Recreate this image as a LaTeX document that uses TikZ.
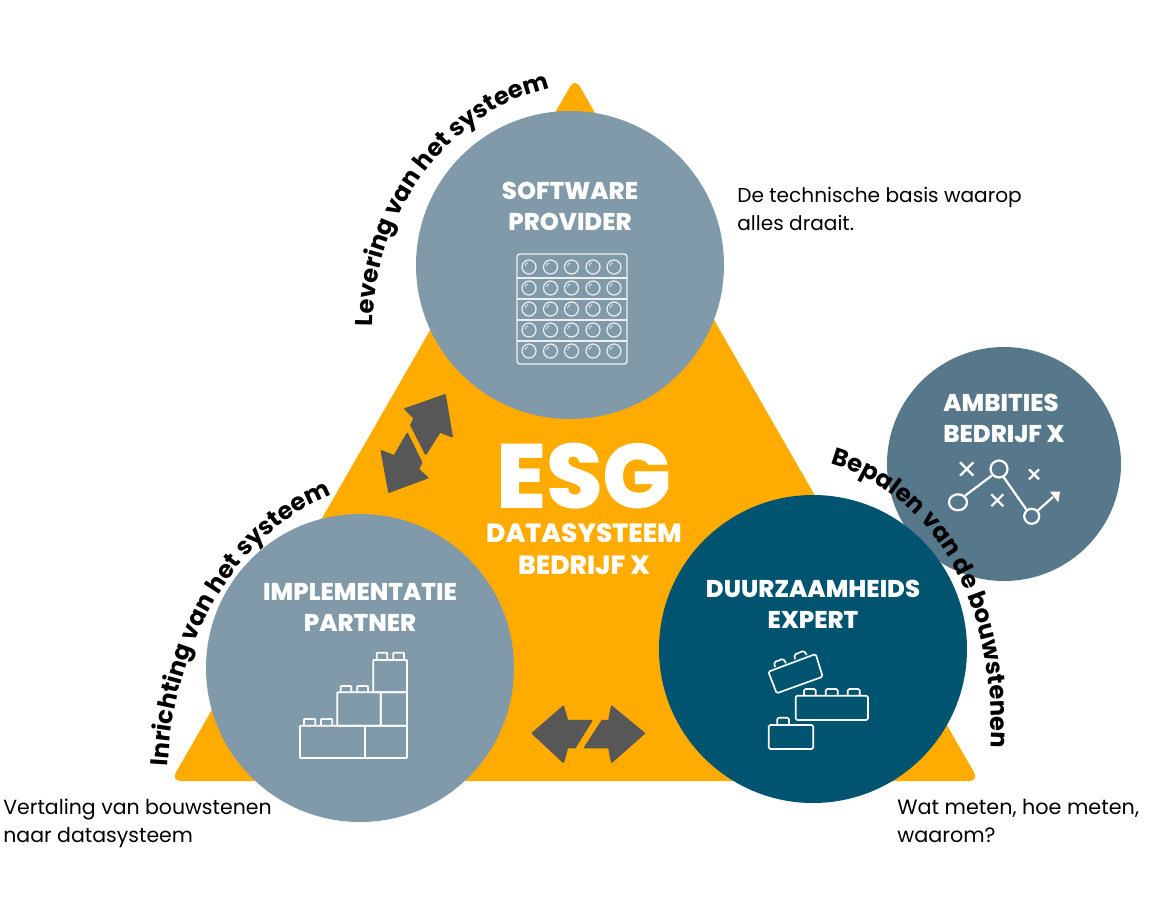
\documentclass[tikz,border=0pt]{standalone}
\usepackage{fontspec}
\setmainfont{Poppins}
\newfontfamily\xbfam{Poppins ExtraBold}
\usetikzlibrary{decorations.text}
\definecolor{orangeT}{HTML}{FFAB00}
\definecolor{greyC}{HTML}{819AA9}
\definecolor{darkC}{HTML}{00546F}
\definecolor{midC}{HTML}{57778A}
\definecolor{arrowC}{HTML}{575757}
\newcommand{\headfont}{\fontsize{13.8pt}{14pt}\selectfont\xbfam}
\newcommand{\centrefont}{\fontsize{15pt}{16pt}\selectfont\xbfam}
\newcommand{\arcfont}{\fontsize{13.8pt}{16pt}\selectfont\bfseries}
\tikzset{
  x=0.02cm,y=-0.02cm,
  disc/.style={circle,minimum size=308*0.02cm,inner sep=0pt,outer sep=0pt,fill=#1},
  head/.style={text=white,font=\headfont,inner sep=0pt},
  body/.style={text=black,font=\fontsize{#1}{14pt}\selectfont,anchor=base west,inner sep=0pt},
  icon/.style={draw=white,line width=0.95pt,line join=round,rounded corners=0.3pt},
  iconthin/.style={draw=white!85!greyC,line width=0.8pt},
  dbl/.style={fill=arrowC,draw=arrowC,line width=1pt,line join=round},
  arctext/.style={decorate,decoration={text along path,text align=center,text={|\arcfont|#1}}}
}
\begin{document}
\begin{tikzpicture}
\useasboundingbox (0,0) rectangle (1150,900);
\fill[white] (0,0) rectangle (1150,900);
% triangle
\fill[orangeT,rounded corners=0.2cm] (575,78) -- (979,781) -- (171,781) -- cycle;
% small circle
\node[circle,minimum size=234*0.02cm,inner sep=0pt,fill=midC] (ambities) at (1004,464) {};
% main circles
\node[disc=greyC] (software) at (570,265) {};
\node[disc=greyC] (impl) at (360,668) {};
\node[disc=darkC] (duurz) at (813,649) {};
% centre text
\node[text=white,inner sep=0pt,font={\fontsize{52pt}{52pt}\selectfont\xbfam}] (esg) at (584,476) {ESG};
\node[head,font=\centrefont] (ds) at (584,533) {DATASYSTEEM};
\node[head,font=\centrefont] (bx) at (584,565) {BEDRIJF X};
% heads
\node[head] (h1) at (570,191) {SOFTWARE};
\node[head] (h2) at (570,222) {PROVIDER};
\node[head] (h3) at (360,592) {IMPLEMENTATIE};
\node[head] (h4) at (360,623) {PARTNER};
\node[head] (h5) at (813,589) {DUURZAAMHEIDS};
\node[head] (h6) at (813,620) {EXPERT};
\node[head] (h7) at (1001,403) {AMBITIES};
\node[head] (h8) at (1004,434) {BEDRIJF X};
% body text
\node[body=11.45pt] (t1) at (737,202) {De technische basis waarop};
\node[body=11.45pt] (t2) at (737,230) {alles draait.};
\node[body=11.65pt] (t3) at (3,814) {Vertaling van bouwstenen};
\node[body=11.65pt] (t4) at (3,842) {naar datasysteem};
\node[body=11.8pt] (t5) at (897,814) {Wat meten, hoe meten,};
\node[body=11.8pt] (t6) at (897,842) {waarom?};
% arc text
\path[arctext={Levering van het systeem}] (373,327) .. controls (372,215) and (450,110) .. (551,88);
\path[arctext={Inrichting van het systeem}] (168,762) .. controls (176,640) and (236,535) .. (328,497);
\path[arctext={Bepalen van de bouwstenen}] (824,462) .. controls (935,490) and (1000,610) .. (990,754);
% double arrows
\path[dbl] (445,395) -- (405,409) -- (414.3,418.3) -- (411,425) -- (425.7,454) -- (440,431.7) -- (452,436.5) -- cycle;
\path[dbl] (381.5,451) -- (394.3,456) -- (407.3,433.7) -- (421.5,462.3) -- (418.3,469.3) -- (427.5,477.7) -- (389,492) -- cycle;
\path[dbl] (532.5,733.3) -- (563.3,706.5) -- (567.3,720.8) -- (591.5,720.8) -- (575,747.5) -- (567.3,747.5) -- (563.3,762) -- cycle;
\path[dbl] (644.2,733.3) -- (611.7,706.5) -- (609,720.8) -- (602.2,720.8) -- (584.8,747.5) -- (609,747.5) -- (611.7,762) -- cycle;
% blocks icon (software)
\draw[iconthin,rounded corners=0.06cm] (517,254) rectangle (627,364);
\foreach \yy in {278,299,320,341} \draw[iconthin] (517,\yy) -- (627,\yy);
\foreach \xx in {529,550.5,571.5,593,614}
  \foreach \yy in {267,288,309,330,351} {
    \draw[iconthin,line width=0.7pt] (\xx,\yy) circle[radius=7];
    \draw[iconthin,line width=0.4pt] (\xx-4,\yy-1) .. controls (\xx-3.5,\yy-3) and (\xx-2.5,\yy-4) .. (\xx-1,\yy-4.3);
  }
% lego stack (implementation)
\draw[icon] (300,725.7) rectangle (407,758);
\draw[icon] (365,725.7) -- (365,758);
\draw[icon] (337.3,725.7) rectangle (380.7,692.3);
\draw[icon] (380.7,692.3) rectangle (407,725.7);
\draw[icon] (373.3,660) rectangle (407,692.3);
\foreach \a/\b/\c/\d in {376.7/387.3/652.7/660,393.3/404/652.7/660,340.7/351.3/686/692.3,357.3/368/686/692.3,304/315.3/719/725.7,321/332.3/719/725.7}
  \draw[icon] (\a,\d) -- (\a,\c) -- (\b,\c) -- (\b,\d);
% lego loose (duurzaamheid)
\begin{scope}[icon/.append style={rounded corners=0.03cm}]
\draw[icon] (768.3,671.7) -- (815.7,654) -- (822.7,676.7) -- (776.7,693.3) -- cycle;
\draw[icon] (775,667) -- (774,662.3) -- (783.3,658.7) -- (786,663.3);
\draw[icon] (795,659.3) -- (794.3,654.7) -- (804,650.7) -- (806.7,655);
\draw[icon] (795.7,695.7) rectangle (868,720);
\draw[icon] (804,695.7) -- (804,689) -- (815.7,689) -- (815.7,695.7);
\draw[icon] (825.7,695.7) -- (825.7,689) -- (837.7,689) -- (837.7,695.7);
\draw[icon] (847.7,695.7) -- (847.7,689) -- (859.7,689) -- (859.7,695.7);
\draw[icon] (768.7,725) rectangle (813.3,749);
\draw[icon] (777.3,725) -- (777.3,717.7) -- (789,717.7) -- (789,725);
\end{scope}
% tactic icon
\begin{scope}[draw=white,line width=1.25pt]
\draw (960,462.3) -- (973.4,475.7) (973.4,462.3) -- (960,475.7);
\draw (1029,469.3) -- (1039,479.3) (1039,469.3) -- (1029,479.3);
\draw (991.3,494.3) -- (1003.3,506.3) (1003.3,494.3) -- (991.3,506.3);
\draw (999,469) circle[radius=8.5];
\draw (958,502.3) circle[x radius=9,y radius=8];
\draw (1031.7,516.3) circle[radius=7.5];
\draw (965,495.7) -- (991.7,475.7);
\draw (1003.3,476.7) -- (1026.7,510);
\draw (1037.3,511) -- (1053,497);
\end{scope}
\fill[white] (1050,491.7) -- (1060,491.7) -- (1058.3,502.3) -- cycle;
\end{tikzpicture}
\end{document}
